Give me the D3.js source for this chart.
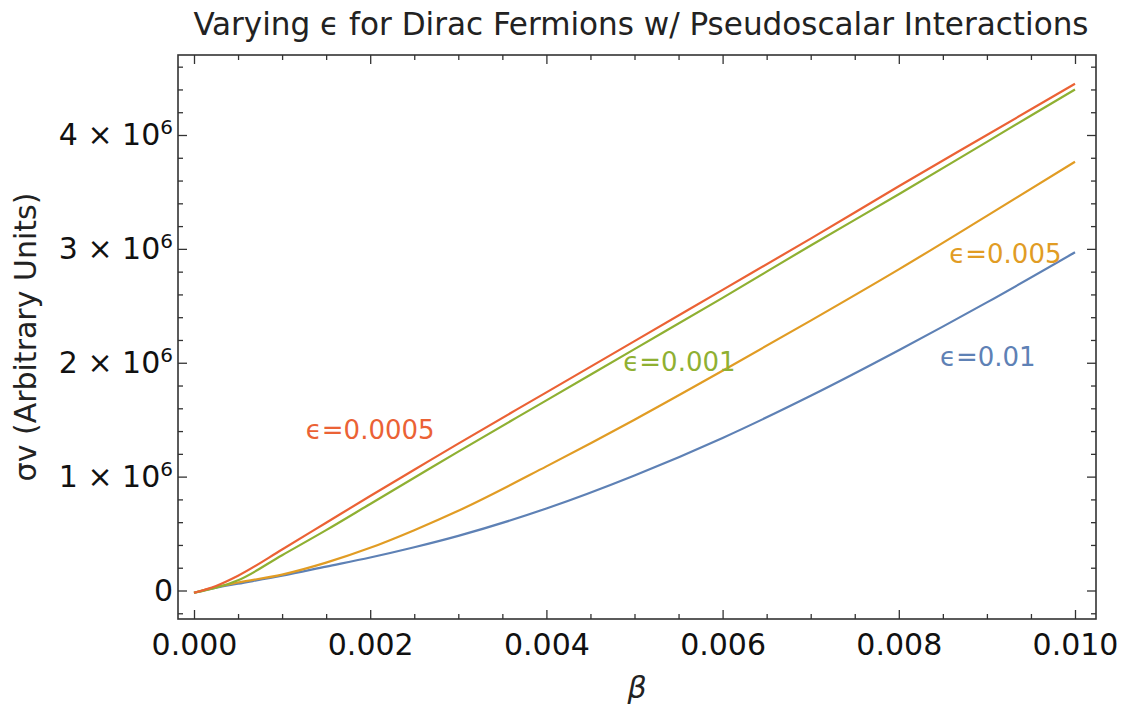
<!DOCTYPE html>
<html>
<head>
<meta charset="utf-8">
<script src="https://cdn.jsdelivr.net/npm/d3@7"></script>
<style>
  body { margin: 0; background: #fff; }
  svg { display: block; }
</style>
</head>
<body>
<div id="grafica"></div>
<script>
// --- Datos: sigma v (unidades de 10^6) frente a beta
const beta = [0, 0.00025, 0.0005, 0.001, 0.0015, 0.002, 0.0025, 0.003, 0.004, 0.005, 0.006, 0.007, 0.008, 0.009, 0.010];
const sv_e00005 = [-0.02, 0.04, 0.13, 0.36, 0.595, 0.83, 1.06, 1.29, 1.74, 2.19, 2.64, 3.09, 3.55, 4.00, 4.45];
const sv_e0001  = [-0.02, 0.025, 0.09, 0.31, 0.53, 0.76, 0.99, 1.22, 1.67, 2.12, 2.57, 3.03, 3.48, 3.94, 4.40];
const sv_e0005  = [-0.02, 0.03, 0.07, 0.14, 0.245, 0.375, 0.53, 0.70, 1.09, 1.50, 1.93, 2.37, 2.82, 3.29, 3.765];
const sv_e001   = [-0.02, 0.025, 0.06, 0.13, 0.21, 0.29, 0.38, 0.48, 0.72, 1.01, 1.34, 1.71, 2.11, 2.53, 2.97];

const epsilonLabels = ['ϵ=0.01', 'ϵ=0.005', 'ϵ=0.001', 'ϵ=0.0005'];
const xTicks = [0, 0.002, 0.004, 0.006, 0.008, 0.010];
const yTicks = [0, 1, 2, 3, 4];

const widthApp = 1122, heightApp = 720;
const frame = { left: 178, right: 1096, top: 55, bottom: 619 };

// colores por defecto de Mathematica
const series = [
  { label: epsilonLabels[0], values: sv_e001,   color: '#5E81B5', at: [0.00901, 2.05] },
  { label: epsilonLabels[1], values: sv_e0005,  color: '#E19C24', at: [0.00921, 2.96] },
  { label: epsilonLabels[2], values: sv_e0001,  color: '#8FB032', at: [0.00551, 2.01] },
  { label: epsilonLabels[3], values: sv_e00005, color: '#EB6235', at: [0.00200, 1.41] }
];

const x = d3.scaleLinear().domain([0, 0.01]).range([194, 1075]);
const y = d3.scaleLinear().domain([0, 4]).range([590.5, 135]);

const minorX = d3.range(0, 0.01001, 0.0005).filter(v => Math.abs(v / 0.002 - Math.round(v / 0.002)) > 1e-6);
const minorY = d3.range(-0.2, 4.61, 0.2).filter(v => Math.abs(v - Math.round(v)) > 1e-6);

const grafica = d3.select('#grafica')
                  .append('svg')
                  .attr('width', widthApp)
                  .attr('height', heightApp)
                  .style('font-family', '"DejaVu Sans", sans-serif');

// curvas
const linea = d3.line()
                .x((d, i) => x(beta[i]))
                .y(d => y(d))
                .curve(d3.curveMonotoneX);

grafica.append('clipPath').attr('id', 'marco')
       .append('rect')
       .attr('x', frame.left).attr('y', frame.top)
       .attr('width', frame.right - frame.left)
       .attr('height', frame.bottom - frame.top);

grafica.append('g')
       .attr('clip-path', 'url(#marco)')
       .selectAll('path')
       .data(series)
       .enter()
       .append('path')
       .attr('fill', 'none')
       .attr('stroke', s => s.color)
       .attr('stroke-width', 2.2)
       .attr('d', s => linea(s.values));

// etiquetas de cada curva
grafica.append('g')
       .selectAll('text')
       .data(series)
       .enter()
       .append('text')
       .attr('x', s => x(s.at[0]))
       .attr('y', s => y(s.at[1]))
       .attr('text-anchor', 'middle')
       .attr('dy', '0.36em')
       .attr('font-size', 26)
       .attr('fill', s => s.color)
       .text(s => s.label);

// marco con marcas hacia dentro
const ejeColor = '#333';
function limpiar(g) {
  g.select('.domain').remove();
  g.selectAll('.tick line').attr('stroke', ejeColor).attr('stroke-width', 1.3);
}

const ejes = [
  [d3.axisBottom(x).tickValues(xTicks).tickSize(-9).tickPadding(15).tickFormat(d3.format('.3f')), `translate(0,${frame.bottom})`],
  [d3.axisBottom(x).tickValues(minorX).tickSize(-5).tickFormat(''), `translate(0,${frame.bottom})`],
  [d3.axisTop(x).tickValues(xTicks).tickSize(-9).tickFormat(''), `translate(0,${frame.top})`],
  [d3.axisTop(x).tickValues(minorX).tickSize(-5).tickFormat(''), `translate(0,${frame.top})`],
  [d3.axisLeft(y).tickValues(yTicks).tickSize(-9).tickPadding(5), `translate(${frame.left},0)`],
  [d3.axisLeft(y).tickValues(minorY).tickSize(-5).tickFormat(''), `translate(${frame.left},0)`],
  [d3.axisRight(y).tickValues(yTicks).tickSize(-9).tickFormat(''), `translate(${frame.right},0)`],
  [d3.axisRight(y).tickValues(minorY).tickSize(-5).tickFormat(''), `translate(${frame.right},0)`]
];

const grupos = ejes.map(([eje, t]) => grafica.append('g')
                  .attr('transform', t)
                  .call(eje)
                  .call(limpiar)
                  .attr('font-family', '"DejaVu Sans", sans-serif')
                  .attr('font-size', 30));

grupos.forEach(g => g.selectAll('.tick text').attr('fill', '#111'));

// etiquetas del eje y: "n × 10^6"
grupos[4].selectAll('.tick text')
         .text(null)
         .each(function (d) {
           const t = d3.select(this);
           if (d === 0) { t.text('0'); return; }
           t.append('tspan').text(d + ' × 10');
           t.append('tspan').attr('dy', '-0.55em').attr('font-size', 20).text('6');
         });

grafica.append('rect')
       .attr('x', frame.left).attr('y', frame.top)
       .attr('width', frame.right - frame.left)
       .attr('height', frame.bottom - frame.top)
       .attr('fill', 'none')
       .attr('stroke', ejeColor)
       .attr('stroke-width', 1.6);

// títulos
const centroX = (frame.left + frame.right) / 2;
grafica.append('text')
       .attr('x', centroX + 4)
       .attr('y', 35)
       .attr('text-anchor', 'middle')
       .attr('font-family', '"DejaVu Sans Condensed", "DejaVu Sans", sans-serif')
       .attr('font-size', 32)
       .attr('textLength', 895)
       .attr('lengthAdjust', 'spacingAndGlyphs')
       .attr('fill', '#222')
       .text('Varying ϵ for Dirac Fermions w/ Pseudoscalar Interactions');

grafica.append('text')
       .attr('x', centroX)
       .attr('y', 698)
       .attr('text-anchor', 'middle')
       .attr('font-size', 30)
       .attr('font-style', 'italic')
       .attr('fill', '#222')
       .text('β');

grafica.append('text')
       .attr('transform', `translate(36,${(frame.top + frame.bottom) / 2}) rotate(-90)`)
       .attr('text-anchor', 'middle')
       .attr('font-size', 30)
       .attr('fill', '#222')
       .text('σv (Arbitrary Units)');
</script>
</body>
</html>
